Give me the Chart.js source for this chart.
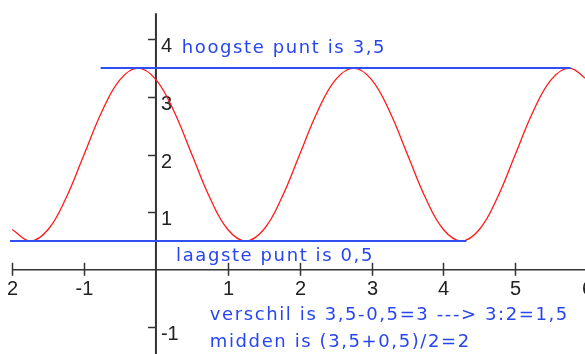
<!DOCTYPE html>
<html>
<head>
<meta charset="utf-8">
<script src="https://cdn.jsdelivr.net/npm/chart.js@4.4.1/dist/chart.umd.min.js"></script>
<style>
  html, body { margin: 0; padding: 0; background: #fff; }
  #wrap { width: 585px; height: 354px; }
</style>
</head>
<body>
<div id="wrap"><canvas id="chart" width="585" height="354"></canvas></div>
<script>
// sine curve, sampled every 0.25
const curveX = [-2, -1.75, -1.5, -1.25, -1, -0.75, -0.5, -0.25, 0, 0.25, 0.5, 0.75, 1, 1.25, 1.5, 1.75,
  2, 2.25, 2.5, 2.75, 3, 3.25, 3.5, 3.75, 4, 4.25, 4.5, 4.75, 5, 5.25, 5.5, 5.75, 6];
const curveY = [0.70, 0.50, 0.70, 1.25, 2.00, 2.75, 3.30, 3.50, 3.30, 2.75, 2.00, 1.25, 0.70, 0.50, 0.70, 1.25,
  2.00, 2.75, 3.30, 3.50, 3.30, 2.75, 2.00, 1.25, 0.70, 0.50, 0.70, 1.25, 2.00, 2.75, 3.30, 3.50, 3.30];

// horizontal guide lines: highest and lowest point
const highLevel = 3.5;
const highFromTo = [-0.77, 5.77];
const lowLevel = 0.5;
const lowFromTo = [-2.03, 4.32];

// axis ticks
const xTickValues = [-2, -1, 1, 2, 3, 4, 5, 6];
const xTickLabels = ['2', '-1', '1', '2', '3', '4', '5', '6'];
const yTickValues = [4, 3, 2, 1, -1];
const yTickLabels = ['4', '3', '2', '1', '-1'];

// explanatory notes
const notes = [
  'hoogste punt is 3,5',
  'laagste punt is 0,5',
  'verschil is 3,5-0,5=3 ---> 3:2=1,5',
  'midden is (3,5+0,5)/2=2'
];
// note anchors (left, baseline) in axis units
const noteAt = [[0.36, 3.76], [0.28, 0.16], [0.75, -0.87], [0.75, -1.33]];

const axesPlugin = {
  id: 'axesCross',
  beforeDatasetsDraw(chart) {
    const { ctx, scales: { x, y } } = chart;
    const x0 = x.getPixelForValue(0);
    const y0 = y.getPixelForValue(0);
    ctx.save();
    ctx.strokeStyle = '#333';
    ctx.fillStyle = '#222';

    // y axis
    ctx.lineWidth = 2;
    ctx.beginPath();
    ctx.moveTo(x0, y.getPixelForValue(4.45));
    ctx.lineTo(x0, chart.height);
    ctx.stroke();

    // x axis
    ctx.lineWidth = 1.5;
    ctx.beginPath();
    ctx.moveTo(x.getPixelForValue(-2), y0);
    ctx.lineTo(chart.width, y0);
    ctx.stroke();

    ctx.font = '20px "Liberation Sans", Arial, sans-serif';
    ctx.lineWidth = 1.5;

    xTickValues.forEach((v, i) => {
      const px = Math.round(x.getPixelForValue(v)) + 0.5;
      ctx.beginPath();
      ctx.moveTo(px, y0 - 7);
      ctx.lineTo(px, y0 + 6);
      ctx.stroke();
      ctx.textAlign = 'center';
      ctx.textBaseline = 'alphabetic';
      ctx.fillText(xTickLabels[i], px, y0 + 25);
    });

    yTickValues.forEach((v, i) => {
      const py = Math.round(y.getPixelForValue(v)) + 0.5;
      ctx.beginPath();
      ctx.moveTo(x0 - 8, py);
      ctx.lineTo(x0, py);
      ctx.stroke();
      ctx.textAlign = 'left';
      ctx.textBaseline = 'alphabetic';
      ctx.fillText(yTickLabels[i], x0 + 5, py + 12);
    });
    ctx.restore();
  },
  afterDatasetsDraw(chart) {
    const { ctx, scales: { x, y } } = chart;
    ctx.save();
    ctx.font = '18px "DejaVu Sans", Verdana, sans-serif';
    ctx.letterSpacing = '1.6px';
    ctx.fillStyle = '#2846f0';
    ctx.textAlign = 'left';
    ctx.textBaseline = 'alphabetic';
    notes.forEach((t, i) => {
      ctx.fillText(t, x.getPixelForValue(noteAt[i][0]), y.getPixelForValue(noteAt[i][1]));
    });
    ctx.restore();
  }
};

new Chart(document.getElementById('chart'), {
  type: 'scatter',
  data: {
    datasets: [
      {
        label: 'hoogste',
        data: highFromTo.map(v => ({ x: v, y: highLevel })),
        showLine: true,
        borderColor: '#2f4ff2',
        borderWidth: 2,
        pointRadius: 0
      },
      {
        label: 'laagste',
        data: lowFromTo.map(v => ({ x: v, y: lowLevel })),
        showLine: true,
        borderColor: '#2f4ff2',
        borderWidth: 2,
        pointRadius: 0
      },
      {
        label: 'curve',
        data: curveX.map((v, i) => ({ x: v, y: curveY[i] })),
        showLine: true,
        borderColor: '#ff1a1a',
        borderWidth: 1.3,
        pointRadius: 0,
        tension: 0.4
      }
    ]
  },
  options: {
    responsive: false,
    animation: false,
    layout: { padding: 0 },
    scales: {
      x: { type: 'linear', min: -2.17, max: 5.97, display: false },
      y: { type: 'linear', min: -1.46, max: 4.68, display: false }
    },
    plugins: {
      legend: { display: false },
      tooltip: { enabled: false }
    }
  },
  plugins: [axesPlugin]
});
</script>
</body>
</html>
